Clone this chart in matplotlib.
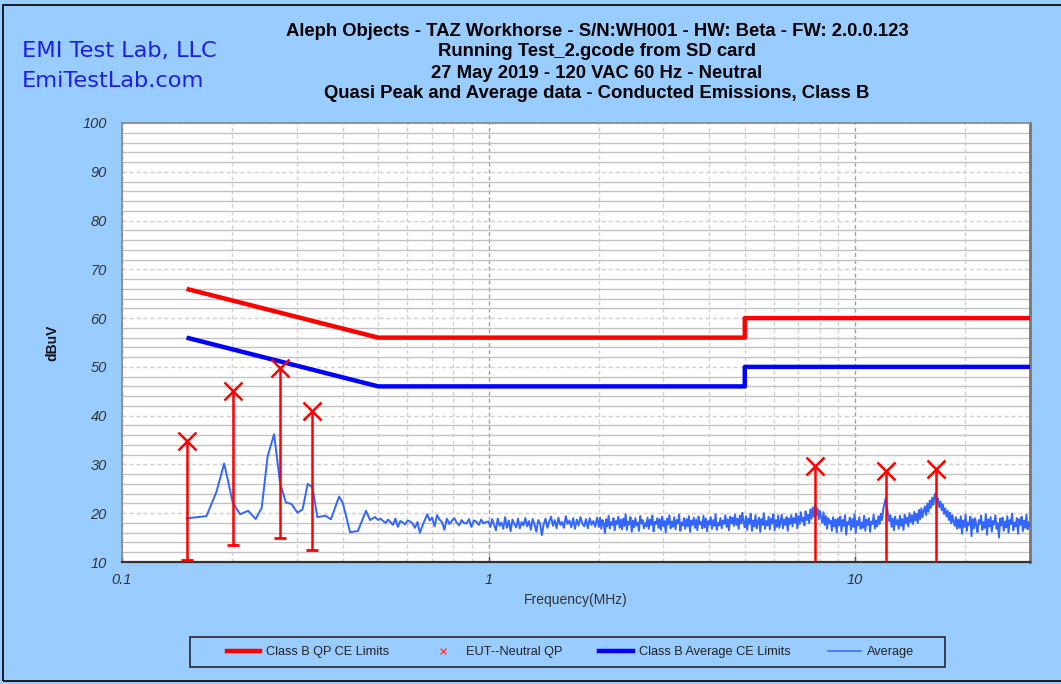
import numpy as np
import matplotlib
matplotlib.use('Agg')
import matplotlib.pyplot as plt
from matplotlib.lines import Line2D
from matplotlib.patches import Rectangle
from matplotlib.ticker import FixedLocator, NullFormatter, LogLocator

# ---------------- data ----------------
title_lines = [
    "Aleph Objects - TAZ Workhorse - S/N:WH001 - HW: Beta - FW: 2.0.0.123",
    "Running Test_2.gcode from SD card",
    "27 May 2019 - 120 VAC 60 Hz - Neutral",
    "Quasi Peak and Average data - Conducted Emissions, Class B",
]
brand_lines = ["EMI Test Lab, LLC", "EmiTestLab.com"]

# CISPR Class B limits
qp_lim_freq = [0.15, 0.5, 0.5, 5.0, 5.0, 30.0]
qp_lim_val = [66, 56, 56, 56, 60, 60]
avg_lim_freq = [0.15, 0.5, 0.5, 5.0, 5.0, 30.0]
avg_lim_val = [56, 46, 46, 46, 50, 50]

# Quasi-peak measurements (marker value and lower end of the bar)
qp_freq = [0.150, 0.201, 0.270, 0.330, 7.78, 12.15, 16.6]
qp_val = [34.8, 45.0, 49.8, 40.9, 29.7, 28.6, 29.1]
qp_low = [10.4, 13.5, 14.9, 12.5, 9.0, 9.0, 9.0]

# Average trace, low-frequency points
avg_low_freq = [0.150, 0.170, 0.181, 0.190, 0.2005, 0.210, 0.221, 0.2316, 0.2405,
                0.2497, 0.260, 0.270, 0.280, 0.290, 0.301, 0.311, 0.321, 0.331,
                0.341, 0.359, 0.3715, 0.391, 0.400, 0.419, 0.440, 0.463, 0.475, 0.490]
avg_low_val = [18.95, 19.4, 24.4, 30.2, 22.2, 19.8, 20.5, 18.8, 21.1,
               31.7, 36.2, 26.1, 22.2, 21.9, 20.1, 20.8, 26.0, 25.3,
               19.2, 19.5, 18.75, 23.4, 22.2, 16.1, 16.35, 20.5, 18.6, 19.2]

# Average trace 0.5 - 1 MHz
avg_a_val = [18.6, 18.9, 18.4, 18.0, 18.7, 18.2, 17.6, 18.9, 17.2, 18.4, 18.1, 17.7,
             18.5, 18.3, 17.9, 17.0, 18.2, 16.0, 17.4, 18.6, 19.8, 18.5, 19.1, 17.3,
             19.6, 18.7, 18.2, 16.6, 18.9, 17.8, 18.4, 19.0, 18.1, 17.5, 18.6, 18.0,
             17.9, 18.8, 17.2, 18.5, 18.3, 17.6, 18.7, 17.9, 18.2]
# Average trace 1 - 2 MHz
avg_b_val = [18.3, 17.2, 18.8, 17.6, 16.5, 18.9, 17.4, 18.1, 16.8, 19.2, 17.0, 18.5,
             16.3, 18.7, 17.8, 17.1, 18.9, 16.9, 18.2, 17.5, 19.0, 17.3, 18.4, 16.6,
             18.8, 17.7, 16.2, 18.6, 17.9, 15.5, 17.8, 18.9, 17.0, 18.3, 19.3, 17.4,
             18.6, 16.9, 19.1, 17.6, 18.2, 17.0, 19.4, 17.8, 18.5, 17.1, 19.0, 16.8,
             18.7, 17.5, 19.2, 17.9, 17.3, 18.8, 16.9, 19.0, 17.6, 18.4, 17.2, 19.1]
# Average trace 2 - 5 MHz
avg_c_val = [17.2, 19.1, 16.8, 18.6, 17.9, 15.9, 18.8, 17.3, 19.5, 16.9, 18.2, 17.6, 19.0, 16.5, 18.4, 17.8, 19.3, 17.0, 18.7, 16.7,
             18.9, 17.4, 19.8, 16.6, 18.3, 17.7, 19.2, 16.2, 18.5, 17.1, 19.0, 17.5, 18.1, 16.4, 19.4, 17.9, 18.6, 16.9, 18.0, 17.3,
             19.1, 16.8, 18.7, 17.6, 19.5, 16.3, 18.2, 17.8, 19.0, 17.0, 18.8, 16.6, 19.3, 17.4, 18.4, 16.1, 18.9, 17.7, 19.6, 16.9,
             18.3, 17.2, 19.2, 16.7, 18.6, 17.9, 19.7, 16.4, 18.1, 17.5, 19.0, 16.8, 18.8, 17.3, 19.4, 16.2, 18.5, 17.6, 19.1, 17.0,
             18.7, 16.5, 19.3, 17.8, 18.2, 16.9, 19.5, 17.1, 18.9, 16.3, 18.4, 17.7, 19.2, 16.8, 18.6, 17.4, 19.8, 16.6, 18.0, 17.5,
             19.0, 16.9, 18.5, 17.8, 19.6, 17.2, 18.8, 16.5, 19.3, 17.9, 19.1, 17.4, 19.7, 17.6, 18.9, 16.8, 19.5, 17.9, 20.1, 18.2]
# Average trace 5 - 30 MHz
avg_d_val = [17.1, 19.4, 16.6, 18.9, 17.8, 19.9, 16.4, 18.5, 17.3, 19.6, 16.9, 18.2, 19.1, 16.2, 18.8, 17.6, 20.0, 16.8, 18.4, 17.5,
             19.3, 16.7, 18.9, 17.9, 19.8, 16.5, 18.6, 17.2, 19.5, 17.0, 18.3, 19.7, 16.9, 18.7, 17.6, 19.2, 16.4, 18.9, 17.8, 19.6,
             17.3, 19.0, 18.1, 19.9, 16.9, 19.4, 17.8, 20.2, 18.3, 19.1, 17.5, 20.4, 18.6, 19.7, 18.0, 20.8, 18.9, 21.2, 19.3, 21.7,
             19.6, 21.0, 18.8, 20.5, 19.2, 18.1, 20.2, 17.6, 19.4, 16.8, 19.0, 17.9, 18.5, 16.4, 19.2, 17.3, 18.7, 16.1, 18.9, 17.5,
             19.3, 16.3, 18.6, 17.4, 19.6, 15.6, 18.2, 17.7, 19.1, 16.6, 18.8, 17.2, 19.8, 16.0, 18.4, 17.5, 19.2, 16.8, 18.1, 17.0,
             19.5, 16.4, 18.7, 17.6, 19.0, 16.2, 18.3, 17.8, 19.7, 16.9, 18.5, 17.3, 19.4, 17.8, 19.9, 18.6, 20.8, 21.9, 23.0, 21.5,
             19.8, 18.4, 19.6, 17.2, 18.9, 16.5, 19.3, 17.7, 18.6, 16.8, 19.5, 17.4, 18.8, 16.6, 19.7, 17.9, 19.1, 17.3, 20.0, 18.2,
             19.6, 17.8, 20.3, 18.5, 19.9, 18.0, 20.7, 18.8, 21.0, 19.2, 20.5, 21.4, 19.6, 22.0, 20.3, 22.6, 21.1, 23.2, 21.7, 23.6,
             24.1, 21.9, 23.0, 21.2, 22.4, 20.6, 21.8, 19.9, 21.0, 19.3, 20.5, 18.6, 20.1, 17.9, 19.6, 18.3, 17.4, 19.2, 16.8, 18.7,
             17.0, 19.4, 15.8, 18.5, 17.2, 19.7, 16.4, 18.1, 17.6, 19.3, 15.3, 18.8, 16.9, 19.0, 17.4, 16.1, 18.6, 17.8, 19.5, 16.6,
             18.2, 17.0, 19.8, 15.6, 18.7, 17.3, 19.2, 16.2, 18.4, 17.7, 19.6, 16.8, 18.0, 15.0, 18.9, 17.5, 19.1, 16.4, 18.3, 17.1,
             19.4, 16.0, 18.6, 17.8, 19.9, 16.5, 18.1, 17.3, 19.0, 15.8, 18.8, 17.6, 19.3, 16.3, 18.5, 17.0, 19.7, 16.7, 18.2, 17.4]

x_ticks = [0.1, 1, 10]
x_tick_labels = ["0.1", "1", "10"]
y_ticks = list(range(10, 101, 10))

legend_labels = ["Class B QP CE Limits", "EUT--Neutral QP",
                 "Class B Average CE Limits", "Average"]

# sweep frequency grid for each segment of the average trace
seg_a_f = np.geomspace(0.5, 1.0, len(avg_a_val), endpoint=False)
seg_b_f = np.geomspace(1.0, 2.0, len(avg_b_val), endpoint=False)
seg_c_f = np.geomspace(2.0, 5.0, len(avg_c_val), endpoint=False)
seg_d_f = np.geomspace(5.0, 30.0, len(avg_d_val))
avg_freq = np.concatenate([avg_low_freq, seg_a_f, seg_b_f, seg_c_f, seg_d_f])
avg_val = np.concatenate([avg_low_val, avg_a_val, avg_b_val, avg_c_val, avg_d_val])

# ---------------- style ----------------
BG = '#99CCFF'
RED = '#FF0000'
BLUE = '#0000FF'
AVG = '#3366FF'
W, H = 1061, 684

fig = plt.figure(figsize=(W / 100, H / 100), dpi=100, facecolor=BG)
fig.patches.append(Rectangle((3 / W, 3 / H), 1.2, 1 - 8 / H, transform=fig.transFigure,
                             fill=False, edgecolor='black', linewidth=1.2))

ax = fig.add_axes([122 / W, 1 - 562 / H, (1030 - 122) / W, (562 - 123) / H])
ax.set_facecolor('white')
ax.set_xscale('log')
ax.set_xlim(0.1, 30)
ax.set_ylim(10, 100)

# grid
ax.set_yticks(y_ticks)
ax.yaxis.set_minor_locator(FixedLocator(list(range(12, 100, 2))))
ax.xaxis.set_major_locator(FixedLocator(x_ticks))
ax.xaxis.set_minor_locator(LogLocator(base=10, subs=np.arange(2, 10)))
ax.xaxis.set_minor_formatter(NullFormatter())
ax.set_xticklabels(x_tick_labels)
ax.grid(which='minor', axis='y', color='#C2C2C2', linestyle='-', linewidth=1.0)
ax.grid(which='major', axis='y', color='#CFCFCF', linestyle=(0, (3, 2)), linewidth=1.0)
ax.grid(which='minor', axis='x', color='#D2D2D2', linestyle=(0, (3, 2)), linewidth=1.0)
ax.grid(which='major', axis='x', color='#A0A0A0', linestyle=(0, (3, 2)), linewidth=1.0)
ax.set_axisbelow(True)

ax.tick_params(axis='y', which='both', length=0, pad=11, labelsize=10.5, labelcolor='#333333')
ax.tick_params(axis='x', which='minor', length=0)
ax.tick_params(axis='x', which='major', direction='in', length=4, width=1,
               pad=8, labelsize=10.5, labelcolor='#333333', color='#555555')
for lab in ax.get_xticklabels() + ax.get_yticklabels():
    lab.set_fontstyle('italic')
    lab.set_family('Liberation Sans')

for s in ['top', 'left']:
    ax.spines[s].set_color('#888888')
    ax.spines[s].set_linewidth(1.2)
ax.spines['right'].set_color('#777777')
ax.spines['right'].set_linewidth(2.0)
ax.spines['bottom'].set_color('#333333')
ax.spines['bottom'].set_linewidth(1.6)

# data
ax.plot(avg_freq, avg_val, color=AVG, linewidth=1.4, zorder=3)
ax.plot(qp_lim_freq, qp_lim_val, color=RED, linewidth=3.2, solid_capstyle='butt', zorder=4)
ax.plot(avg_lim_freq, avg_lim_val, color=BLUE, linewidth=3.2, solid_capstyle='butt', zorder=4)
ax.vlines(qp_freq, qp_low, qp_val, color=RED, linewidth=1.8, zorder=5)
ax.plot(qp_freq, qp_low, linestyle='none', marker='_', markersize=9,
        markeredgewidth=2, color=RED, zorder=5)
ax.plot(qp_freq, qp_val, linestyle='none', marker='x', markersize=12.5,
        markeredgewidth=1.8, color=RED, zorder=6)

ax.set_xlabel("Frequency(MHz)", fontsize=10, color='#333333', labelpad=4,
              family='Liberation Sans')
ax.set_ylabel("dBuV", fontsize=10, fontweight='bold', color='#111111',
              family='Liberation Sans', labelpad=0)
ax.yaxis.set_label_coords(-(122 - 59) / (1030 - 122), 0.5)

# titles
title_y = [31, 52, 73, 94]
for txt, yy in zip(title_lines, title_y):
    fig.text(597 / W, 1 - yy / H, txt, ha='center', va='center', fontsize=13.3,
             fontweight='bold', family='Liberation Sans', color='black')

brand_y = [51, 81]
for txt, yy in zip(brand_lines, brand_y):
    fig.text(22 / W, 1 - yy / H, txt, ha='left', va='center', fontsize=16.2,
             family='DejaVu Sans', color='#1E1EE6')

# legend (frame drawn separately)
fig.patches.append(Rectangle((190 / W, 1 - 667 / H), 755 / W, 30 / H,
                             transform=fig.transFigure, facecolor=BG,
                             edgecolor='#333344', linewidth=1.3, zorder=1))
handles = [Line2D([], [], color=RED, linewidth=3.2),
           Line2D([], [], color='#FF4040', linestyle='none', marker='x',
                  markersize=5, markeredgewidth=1),
           Line2D([], [], color=BLUE, linewidth=3.2),
           Line2D([], [], color=AVG, linewidth=1.1)]
leg = fig.legend(handles, legend_labels, loc='center', ncol=4,
                 bbox_to_anchor=(570.5 / W, 1 - 652 / H),
                 frameon=False,
                 prop={'family': 'Liberation Sans', 'size': 9.2},
                 handlelength=2.65, handletextpad=0.45, columnspacing=2.9,
                 borderaxespad=0, borderpad=0.2)
for t in leg.get_texts():
    t.set_color('#222222')

fig.savefig('out.png', dpi=100, facecolor=BG)
